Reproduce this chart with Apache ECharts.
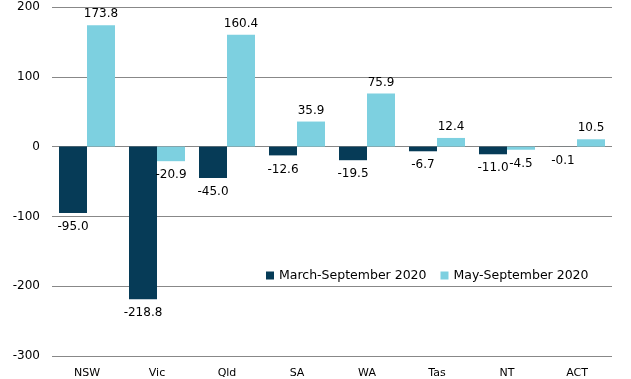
<!DOCTYPE html>
<html><head><meta charset="utf-8">
<script src="https://cdn.jsdelivr.net/npm/echarts@6/dist/echarts.min.js"></script>
<style>html,body{margin:0;padding:0;background:#fff}#c{width:631px;height:379px}</style>
</head><body><div id="c"></div>
<script>
const categories = ['NSW','Vic','Qld','SA','WA','Tas','NT','ACT'];
const marchSep = [-95.0,-218.8,-45.0,-12.6,-19.5,-6.7,-11.0,-0.1];
const maySep = [173.8,-20.9,160.4,35.9,75.9,12.4,-4.5,10.5];
const seriesNames = ['March-September 2020','May-September 2020'];
const yTicks = {min:-300,max:200,interval:100};
const FONT = '"DejaVu Sans", Verdana, sans-serif';
function lbl(){return {show:true,fontFamily:FONT,fontSize:12,color:'#000',
  position:'top',distance:5,formatter:p=>p.value.toFixed(1)};}
function mk(name,data,color){
  return {name,type:'bar',data:data.map(v=>({value:v,label:v<0?{position:'bottom',distance:8}:{position:'top',distance:5}})),
    itemStyle:{color},barGap:'0%',barCategoryGap:'20%',label:lbl()};
}
const chart = echarts.init(document.getElementById('c'));
chart.setOption({
  animation:false,
  grid:{left:52,right:19,top:7,bottom:23,containLabel:false,outerBoundsMode:'none'},
  legend:{left:261,top:264,itemWidth:8,itemHeight:8,itemGap:14,icon:'rect',
    textStyle:{fontFamily:FONT,fontSize:12.5,color:'#000'},data:seriesNames},
  xAxis:{type:'category',data:categories,axisLine:{show:false},axisTick:{show:false},
    axisLabel:{fontFamily:FONT,fontSize:11,color:'#000',margin:12}},
  yAxis:{type:'value',min:yTicks.min,max:yTicks.max,interval:yTicks.interval,
    name:"'000",nameLocation:'middle',nameGap:32,nameRotate:90,
    nameTextStyle:{fontFamily:FONT,fontSize:12,fontWeight:'bold',color:'#000'},
    splitLine:{lineStyle:{color:'#888',width:1}},
    axisLabel:{fontFamily:FONT,fontSize:12,color:'#000',margin:12}},
  series:[mk(seriesNames[0],marchSep,'#063b57'),mk(seriesNames[1],maySep,'#7dd0e0')]
});
</script></body></html>
